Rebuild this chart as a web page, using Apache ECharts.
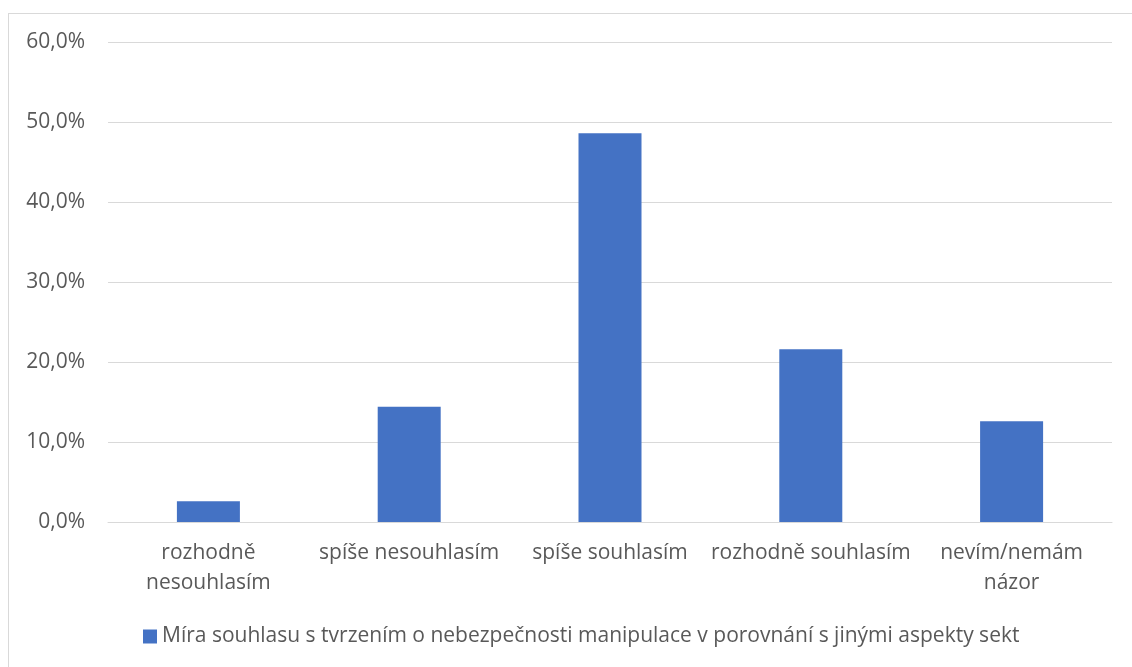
<!DOCTYPE html>
<html>
<head>
<meta charset="utf-8">
<title>Míra souhlasu</title>
<script src="https://cdn.jsdelivr.net/npm/echarts@6/dist/echarts.min.js"></script>
<style>
  html, body { margin: 0; padding: 0; background: #fff; }
  #chart { width: 1132px; height: 667px; }
  #frame {
    position: absolute; left: 8px; top: 13px; width: 1130px; height: 660px;
    border: 1px solid #d9d9d9; pointer-events: none;
  }
</style>
</head>
<body>
<div id="chart"></div>
<div id="frame"></div>
<script>
// kategorie odpovědí
const categories = ['rozhodně\nnesouhlasím', 'spíše nesouhlasím', 'spíše souhlasím', 'rozhodně souhlasím', 'nevím/nemám\nnázor'];
// podíl odpovědí v %
const values = [2.6, 14.4, 48.6, 21.6, 12.6];
const seriesName = 'Míra souhlasu s tvrzením o nebezpečnosti manipulace v porovnání s jinými aspekty sekt';

const font = '"Open Sans", "Noto Sans", sans-serif';

const chart = echarts.init(document.getElementById('chart'));
chart.setOption({
  animation: false,
  textStyle: { fontFamily: font },
  grid: { left: 108, right: 20, top: 42, bottom: 145 },
  legend: {
    left: 138,
    top: 621,
    itemWidth: 14,
    itemHeight: 14,
    itemGap: 10,
    icon: 'rect',
    textStyle: { fontFamily: font, fontSize: 21, color: '#595959' },
    data: [seriesName]
  },
  xAxis: {
    type: 'category',
    data: categories,
    axisLine: { lineStyle: { color: '#d9d9d9', width: 1 } },
    axisTick: { show: false },
    axisLabel: {
      interval: 0,
      margin: 16,
      fontFamily: font,
      fontSize: 21,
      lineHeight: 30,
      color: '#595959'
    }
  },
  yAxis: {
    type: 'value',
    min: 0,
    max: 60,
    interval: 10,
    axisLine: { show: false },
    axisTick: { show: false },
    splitLine: { lineStyle: { color: '#d9d9d9', width: 1 } },
    axisLabel: {
      margin: 23,
      fontFamily: font,
      fontSize: 21,
      color: '#595959',
      formatter: v => v.toFixed(1).replace('.', ',') + '%'
    }
  },
  series: [{
    name: seriesName,
    type: 'bar',
    data: values,
    barWidth: 63,
    itemStyle: { color: '#4472c4' }
  }]
});
</script>
</body>
</html>
